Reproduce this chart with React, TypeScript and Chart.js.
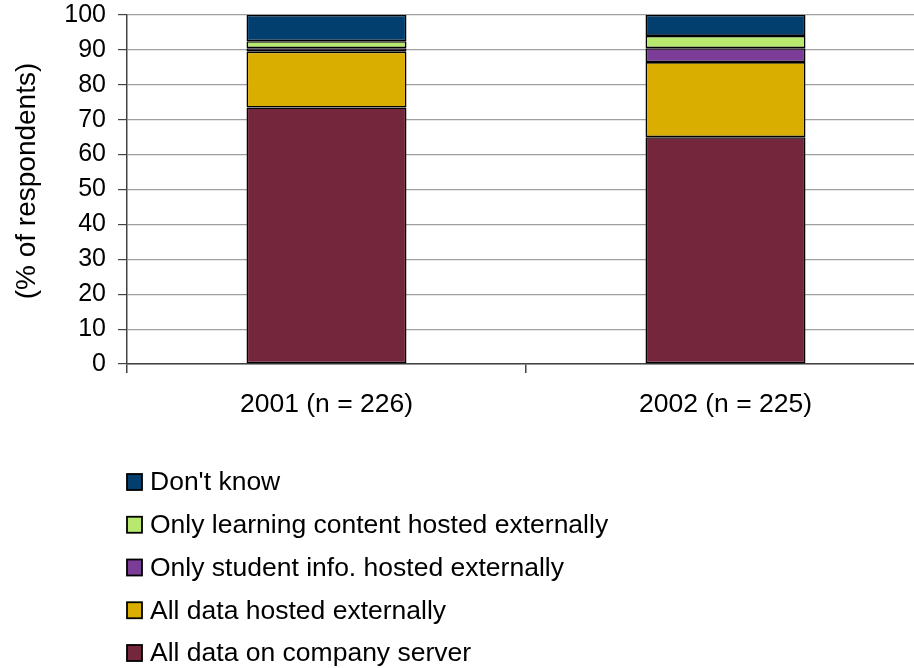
import React, { useEffect, useRef } from "react";
import { Chart, registerables } from "chart.js";

Chart.register(...registerables);

const categories = ["2001 (n = 226)", "2002 (n = 225)"];
const seriesNames = [
  "All data on company server",
  "All data hosted externally",
  "Only student info. hosted externally",
  "Only learning content hosted externally",
  "Don't know",
];
const companyServer = [73.5, 65];
const hostedExternally = [16, 21.5];
const studentInfo = [1, 4];
const learningContent = [2, 3.5];
const dontKnow = [7.5, 6];
const seriesColors = ["#74263C", "#D9AE00", "#7B3D97", "#B9E86E", "#023F6E"];
const yTicks = [0, 10, 20, 30, 40, 50, 60, 70, 80, 90, 100];
const yTitle = "(% of respondents)";

const FONT = "'Liberation Sans', Arial, sans-serif";

export default function App() {
  const ref = useRef<HTMLCanvasElement | null>(null);
  useEffect(() => {
    document.body.style.margin = "0";
    const values = [companyServer, hostedExternally, studentInfo, learningContent, dontKnow];
    const legendPlugin = {
      id: "customLegend",
      afterDraw(chart: any) {
        const ctx = chart.ctx;
        const ds = chart.data.datasets;
        ctx.save();
        ctx.font = `26.5px ${FONT}`;
        ctx.textBaseline = "middle";
        ctx.textAlign = "left";
        for (let i = 0; i < ds.length; i++) {
          const d = ds[ds.length - 1 - i];
          const cy = 482 + i * 42.75;
          ctx.fillStyle = d.backgroundColor;
          ctx.fillRect(127, cy - 8, 15, 16);
          ctx.strokeStyle = "#000";
          ctx.lineWidth = 1.8;
          ctx.strokeRect(127, cy - 8, 15, 16);
          ctx.fillStyle = "#000";
          ctx.fillText(d.label, 150, cy + 1);
        }
        // y-axis title
        ctx.translate(26, 181);
        ctx.rotate(-Math.PI / 2);
        ctx.textAlign = "center";
        ctx.font = `28px ${FONT}`;
        ctx.fillText(yTitle, 0, 1);
        ctx.restore();
      },
    };
    const chart = new Chart(ref.current!, {
      type: "bar",
      data: {
        labels: categories,
        datasets: seriesNames.map((name, i) => ({
          label: name,
          data: values[i],
          backgroundColor: seriesColors[i],
          borderColor: "#000",
          borderWidth: 1.6,
          borderSkipped: false,
          categoryPercentage: 1,
          barPercentage: 0.401,
        })),
      },
      options: {
        responsive: false,
        animation: false,
        layout: { padding: { top: 15, right: 5, left: 0, bottom: 0 } },
        plugins: { legend: { display: false }, tooltip: { enabled: false } },
        scales: {
          x: {
            stacked: true,
            offset: true,
            grid: {
              offset: true,
              drawOnChartArea: false,
              drawTicks: true,
              tickLength: 9,
              color: "#444",
              lineWidth: 1.5,
            },
            border: { color: "#444", width: 1.5 },
            ticks: { color: "#000", font: { family: FONT, size: 26.5 }, padding: 16 },
            afterFit(scale: any) {
              scale.height = 304;
              scale.paddingLeft = 0;
              scale.paddingRight = 0;
            },
          },
          y: {
            stacked: true,
            min: 0,
            max: 100,
            afterBuildTicks(scale: any) {
              scale.ticks = yTicks.map((v) => ({ value: v }));
            },
            grid: { color: "#a0a0a0", tickColor: "#444", lineWidth: 1.2, tickLength: 9, drawTicks: true },
            border: { color: "#444", width: 1.5 },
            ticks: { color: "#000", font: { family: FONT, size: 25 }, padding: 12 },
            afterFit(scale: any) {
              scale.width = 127;
              scale.paddingTop = 0;
              scale.paddingBottom = 0;
            },
          },
        },
      },
      plugins: [legendPlugin],
    });
    return () => chart.destroy();
  }, []);
  return (
    <div style={{ position: "absolute", left: 0, top: 0, width: 914, height: 668, overflow: "hidden", background: "#fff" }}>
      <canvas ref={ref} width={930} height={668} style={{ width: 930, height: 668, display: "block" }} />
    </div>
  );
}
